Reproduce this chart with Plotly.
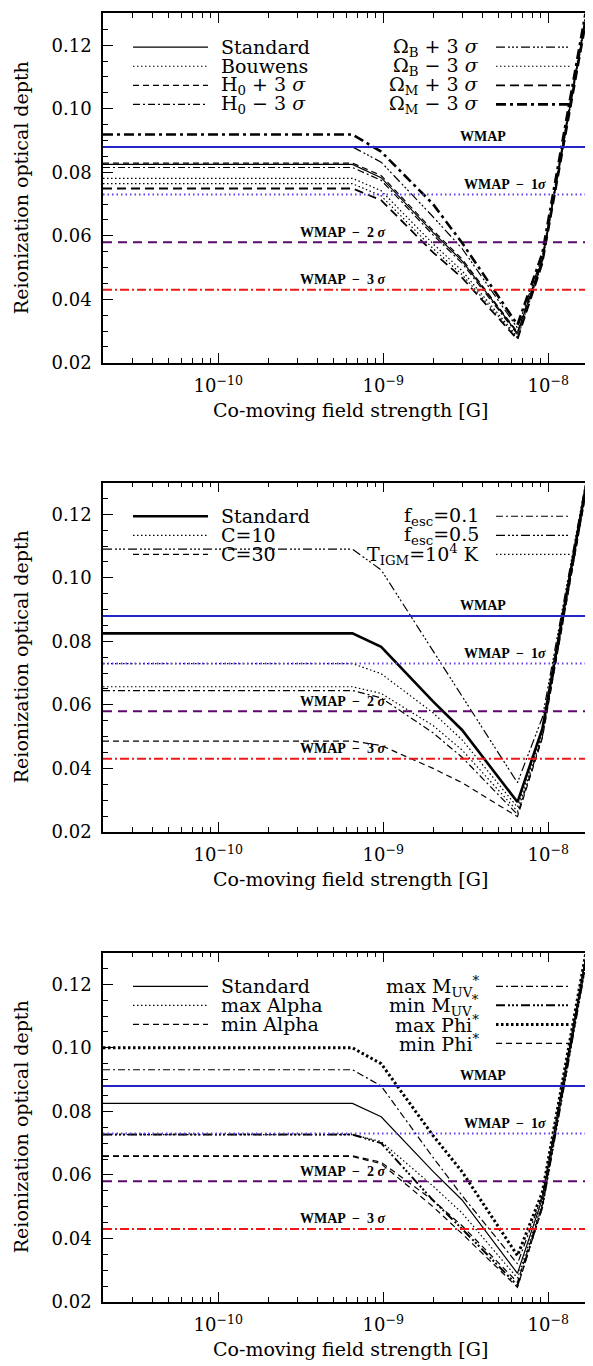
import math
import plotly.graph_objects as go

# ---------------- data ----------------
B = [2e-11, 6.5e-10, 9.7e-10, 2e-9, 3e-9, 6.5e-9, 9.2e-9, 2e-8]

wmap_levels = [0.088, 0.073, 0.058, 0.043]
wmap_labels = ["WMAP", "WMAP  −  1<i>σ</i>", "WMAP  −  2 <i>σ</i>", "WMAP  −  3 <i>σ</i>"]
wmap_label_x = [4.0e-9, 5.5e-9, 5.7e-10, 5.7e-10]
wmap_label_y = [0.0913, 0.0762, 0.0611, 0.0462]

# panel 1
p1_standard = [0.0825, 0.0825, 0.0783, 0.0611, 0.0521, 0.0294, 0.0525, 0.150]
p1_bouwens = [0.0781, 0.0781, 0.0742, 0.0575, 0.0490, 0.0282, 0.0518, 0.149]
p1_h0_plus = [0.0829, 0.0829, 0.0790, 0.0617, 0.0527, 0.0297, 0.0527, 0.150]
p1_h0_minus = [0.0815, 0.0815, 0.0775, 0.0603, 0.0514, 0.0290, 0.0522, 0.150]
p1_ob_plus = [0.0880, 0.0880, 0.0832, 0.0660, 0.0560, 0.0310, 0.0535, 0.151]
p1_ob_minus = [0.0764, 0.0764, 0.0726, 0.0560, 0.0478, 0.0278, 0.0515, 0.149]
p1_om_plus = [0.0749, 0.0749, 0.0712, 0.0548, 0.0468, 0.0274, 0.0512, 0.148]
p1_om_minus = [0.0919, 0.0919, 0.0865, 0.0700, 0.0578, 0.0320, 0.0545, 0.152]

# panel 2
p2_standard = [0.0825, 0.0825, 0.0783, 0.0611, 0.0521, 0.0294, 0.0525, 0.150]
p2_c10 = [0.0730, 0.0730, 0.0698, 0.0575, 0.0490, 0.0278, 0.0512, 0.149]
p2_c30 = [0.0486, 0.0486, 0.0472, 0.0400, 0.0355, 0.0248, 0.0495, 0.148]
p2_fesc01 = [0.0645, 0.0645, 0.0622, 0.0512, 0.0435, 0.0255, 0.0500, 0.148]
p2_fesc05 = [0.1090, 0.1090, 0.1025, 0.0770, 0.0630, 0.0355, 0.0560, 0.151]
p2_tigm = [0.0657, 0.0657, 0.0636, 0.0535, 0.0458, 0.0265, 0.0505, 0.149]

# panel 3
p3_standard = [0.0825, 0.0825, 0.0783, 0.0611, 0.0521, 0.0290, 0.0525, 0.150]
p3_max_alpha = [0.0727, 0.0727, 0.0705, 0.0565, 0.0480, 0.0275, 0.0512, 0.149]
p3_min_alpha = [0.0660, 0.0660, 0.0640, 0.0520, 0.0440, 0.0262, 0.0505, 0.148]
p3_max_muv = [0.0931, 0.0931, 0.0880, 0.0655, 0.0535, 0.0320, 0.0535, 0.150]
p3_min_muv = [0.0727, 0.0727, 0.0700, 0.0520, 0.0430, 0.0252, 0.0500, 0.148]
p3_max_phi = [0.1000, 0.1000, 0.0950, 0.0724, 0.0610, 0.0346, 0.0545, 0.151]
p3_min_phi = [0.0658, 0.0658, 0.0635, 0.0500, 0.0415, 0.0246, 0.0498, 0.148]

x_tickvals = [1e-10, 1e-9, 1e-8]
x_ticktext = ["10<sup>−10</sup>", "10<sup>−9</sup>", "10<sup>−8</sup>"]
x_minor = [k * 10.0 ** e for e in (-11, -10, -9, -8) for k in range(2, 10)]
y_tickvals = [0.02, 0.04, 0.06, 0.08, 0.10, 0.12]
y_ticktext = ["0.02", "0.04", "0.06", "0.08", "0.10", "0.12"]

xlabel = "Co-moving field strength [G]"
ylabel = "Reionization optical depth"

# ---------------- styles ----------------
DOT = "1.5px,2.5px"
DASH = "6px,4px"
LDASH = "9px,5px"
DASHDOT = "7px,3px,2px,3px"
DASH3DOT = "9px,3px,2px,2px,2px,2px,2px,3px"
BIGDOT = "2.5px,2.5px"

panels = [
    {
        "left": [
            ("Standard", p1_standard, "solid", 1.2),
            ("Bouwens", p1_bouwens, DOT, 1.2),
            ("H<sub>0</sub> + 3 <i>σ</i>", p1_h0_plus, DASH, 1.2),
            ("H<sub>0</sub> − 3 <i>σ</i>", p1_h0_minus, DASHDOT, 1.2),
        ],
        "right": [
            ("Ω<sub>B</sub> + 3 <i>σ</i>", p1_ob_plus, DASH3DOT, 1.2),
            ("Ω<sub>B</sub> − 3 <i>σ</i>", p1_ob_minus, DOT, 1.2),
            ("Ω<sub>M</sub> + 3 <i>σ</i>", p1_om_plus, LDASH, 1.8),
            ("Ω<sub>M</sub> − 3 <i>σ</i>", p1_om_minus, "10px,4px,3px,4px", 2.6),
        ],
    },
    {
        "left": [
            ("Standard", p2_standard, "solid", 2.6),
            ("C=10", p2_c10, DOT, 1.2),
            ("C=30", p2_c30, DASH, 1.2),
        ],
        "right": [
            ("f<sub>esc</sub>=0.1", p2_fesc01, DASHDOT, 1.2),
            ("f<sub>esc</sub>=0.5", p2_fesc05, DASH3DOT, 1.2),
            ("T<sub>IGM</sub>=10<sup>4</sup> K", p2_tigm, DOT, 1.2),
        ],
    },
    {
        "left": [
            ("Standard", p3_standard, "solid", 1.2),
            ("max Alpha", p3_max_alpha, DOT, 1.2),
            ("min Alpha", p3_min_alpha, DASH, 1.2),
        ],
        "right": [
            ("max M<sub>UV</sub><sup>*</sup>", p3_max_muv, DASHDOT, 1.2),
            ("min M<sub>UV</sub><sup>*</sup>", p3_min_muv, DASH3DOT, 2.0),
            ("max Phi<sup>*</sup>", p3_max_phi, BIGDOT, 3.0),
            ("min Phi<sup>*</sup>", p3_min_phi, DASH, 1.2),
        ],
    },
]

wmap_styles = [
    ("#2424c8", "solid", 2.0),
    ("#6a3cf0", "1.5px,3px", 2.0),
    ("#5a0a6a", "9px,6px", 2.0),
    ("#ee1818", "9px,3px,2px,3px", 2.0),
]

# ---------------- layout geometry ----------------
W, H = 593, 1366
LEFT, RIGHT = 95, 590
TOPS = [5.5, 478, 951.5]
PH = 352
FONT = "DejaVu Serif"

def py(px):
    return 1 - px / H

fig = go.Figure()
layout = dict(
    width=W, height=H, margin=dict(l=0, r=0, t=0, b=0),
    paper_bgcolor="white", plot_bgcolor="white", showlegend=False,
    font=dict(family=FONT, size=18, color="black"),
)
annotations = []
shapes = []

for i, panel in enumerate(panels):
    n = "" if i == 0 else str(i + 1)
    xa, ya = "x" + n, "y" + n
    top = TOPS[i]
    dom_y = [py(top + PH), py(top)]
    layout["xaxis" + n] = dict(
        type="log", range=[math.log10(2e-11), math.log10(2e-8)],
        domain=[LEFT / W, RIGHT / W], anchor=ya,
        showgrid=False, zeroline=False, showline=True, linecolor="black", linewidth=1.5,
        mirror="allticks", ticks="inside", ticklen=10, tickwidth=1.2, tickcolor="black",
        tickmode="array", tickvals=x_tickvals, ticktext=x_ticktext,
        tickfont=dict(family=FONT, size=18), ticklabelstandoff=6,
        minor=dict(tickmode="array", tickvals=x_minor, ticks="inside", ticklen=5,
                   tickwidth=1, tickcolor="black", showgrid=False),
    )
    layout["yaxis" + n] = dict(
        range=[0.02, 0.13], domain=dom_y, anchor=xa,
        showgrid=False, zeroline=False, showline=True, linecolor="black", linewidth=1.5,
        mirror="allticks", ticks="inside", ticklen=10, tickwidth=1.2, tickcolor="black",
        tickmode="array", tickvals=y_tickvals, ticktext=y_ticktext,
        tickfont=dict(family=FONT, size=18), ticklabelstandoff=6,
        minor=dict(dtick=0.005, ticks="inside", ticklen=5, tickwidth=1,
                   tickcolor="black", showgrid=False),
    )

    # curves
    for name, vals, dash, wdt in panel["left"] + panel["right"]:
        fig.add_trace(go.Scatter(
            x=B, y=vals, mode="lines", xaxis=xa, yaxis=ya, name=name,
            line=dict(color="black", width=wdt, dash=dash), hoverinfo="skip",
        ))

    # WMAP reference lines
    for lev, (col, dash, wdt), lab, lx, ly in zip(wmap_levels, wmap_styles, wmap_labels,
                                                   wmap_label_x, wmap_label_y):
        shapes.append(dict(type="line", xref=xa + " domain", yref=ya, x0=0, x1=1,
                           y0=lev, y1=lev, layer="above",
                           line=dict(color=col, width=wdt, dash=dash)))
        annotations.append(dict(xref=xa, yref=ya, x=math.log10(lx), y=ly, text=lab,
                                showarrow=False, xanchor="center", yanchor="middle",
                                font=dict(family="Liberation Serif", size=14, color="black",
                                          weight="bold")))

    # manual legend
    row0, dy = 34.0, 19.2
    for j, (name, vals, dash, wdt) in enumerate(panel["left"]):
        yy = py(top + row0 + j * dy)
        shapes.append(dict(type="line", xref="paper", yref="paper",
                           x0=125 / W, x1=200 / W, y0=yy, y1=yy,
                           line=dict(color="black", width=wdt, dash=dash)))
        annotations.append(dict(xref="paper", yref="paper", x=211 / W, y=yy, text=name,
                                showarrow=False, xanchor="left", yanchor="middle",
                                font=dict(family=FONT, size=19, color="black")))
    for j, (name, vals, dash, wdt) in enumerate(panel["right"]):
        yy = py(top + row0 + j * dy)
        shapes.append(dict(type="line", xref="paper", yref="paper",
                           x0=488 / W, x1=562 / W, y0=yy, y1=yy,
                           line=dict(color="black", width=wdt, dash=dash)))
        annotations.append(dict(xref="paper", yref="paper", x=473 / W, y=yy, text=name,
                                showarrow=False, xanchor="right", yanchor="middle",
                                font=dict(family=FONT, size=19, color="black")))

    # axis titles
    annotations.append(dict(xref="paper", yref="paper", x=(LEFT + RIGHT) / 2 / W,
                            y=py(top + PH + 47), text=xlabel, showarrow=False,
                            xanchor="center", yanchor="middle",
                            font=dict(family=FONT, size=19, color="black")))
    annotations.append(dict(xref="paper", yref="paper", x=13 / W,
                            y=py(top + PH / 2), text=ylabel, showarrow=False,
                            textangle=-90, xanchor="center", yanchor="middle",
                            font=dict(family=FONT, size=19, color="black")))

layout["annotations"] = annotations
layout["shapes"] = shapes
fig.update_layout(**layout)
fig.write_html("out.html")
